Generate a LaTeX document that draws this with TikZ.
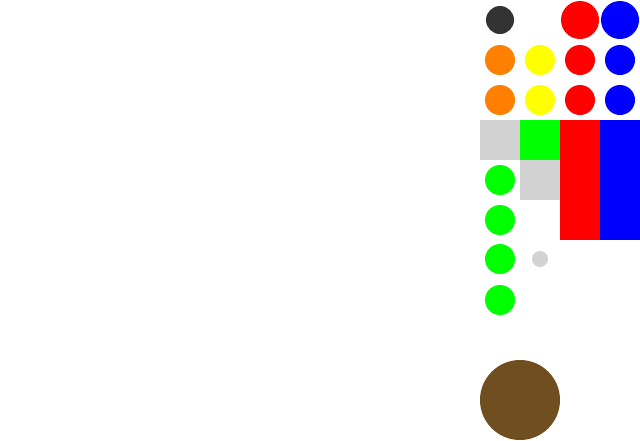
\documentclass[tikz,border=0pt]{standalone}
\usetikzlibrary{backgrounds}
\definecolor{darkc}{HTML}{333333}
\definecolor{orangec}{HTML}{FF8000}
\definecolor{yellowc}{HTML}{FFFF00}
\definecolor{redc}{HTML}{FF0000}
\definecolor{bluec}{HTML}{0000FF}
\definecolor{greenc}{HTML}{00FF00}
\definecolor{grayc}{HTML}{D3D3D3}
\definecolor{brownc}{HTML}{6F4E1F}
\begin{document}
\begin{tikzpicture}[x=1pt,y=-1pt]
\useasboundingbox (0,0) rectangle (640,440);
\fill[white] (0,0) rectangle (640,440);
% row 0
\fill[darkc] (500,20) circle (14);
\fill[redc] (580,20) circle (19);
\fill[bluec] (620,20) circle (19);
% rows 1 and 2
\foreach \y in {60,100}{
  \fill[orangec] (500,\y) circle (15);
  \fill[yellowc] (540,\y) circle (15);
  \fill[redc] (580,\y) circle (15);
  \fill[bluec] (620,\y) circle (15);
}
% rectangles
\fill[grayc] (480,120) rectangle (520,160);
\fill[greenc] (520,120) rectangle (560,160);
\fill[redc] (560,120) rectangle (600,240);
\fill[bluec] (600,120) rectangle (640,240);
\fill[grayc] (520,160) rectangle (560,200);
% green column
\foreach \y in {180,220,259,300}{
  \fill[greenc] (500,\y) circle (15);
}
\fill[grayc] (540,259) circle (8);
% brown circle
\fill[brownc] (520,400) circle (40);
\end{tikzpicture}
\end{document}
